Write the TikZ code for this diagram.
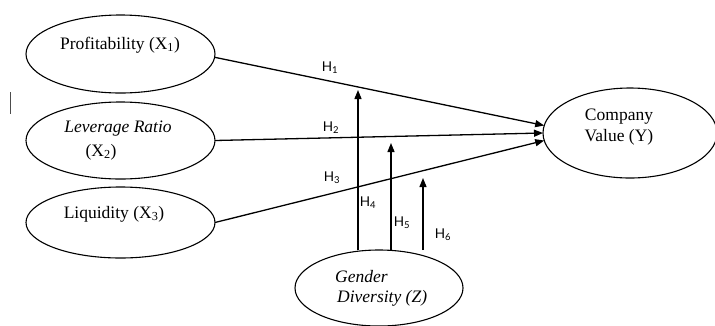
\documentclass[tikz,border=0pt]{standalone}
\usepackage{fontspec}
\setmainfont{Liberation Serif}
\newfontfamily\hfont{Lato}
\usetikzlibrary{shapes.geometric,arrows.meta}
\begin{document}
\begin{tikzpicture}[x=1pt,y=-1pt,
  ell/.style={draw, ellipse, line width=1.1pt, inner sep=0pt, outer sep=0pt},
  lbl/.style={font=\fontsize{17.5}{20}\selectfont, inner sep=0pt},
  hl/.style={font=\hfont\fontsize{13.5}{15}\selectfont, inner sep=0pt},
  arr/.style={line width=1.3pt, -{Triangle[length=9pt,width=7pt]}}]
\useasboundingbox (0,0) rectangle (715,325);
% ellipses
\node[ell, minimum width=189pt, minimum height=78pt] (p1) at (120.5,54) {};
\node[ell, minimum width=189pt, minimum height=77pt] (p2) at (120.5,140.5) {};
\node[ell, minimum width=189pt, minimum height=71pt] (p3) at (120.5,222.5) {};
\node[ell, minimum width=174pt, minimum height=90pt] (cv) at (630,133) {};
\node[ell, minimum width=168pt, minimum height=76pt] (gd) at (379,288) {};
% texts
\node[lbl] (t1) at (120,45) {Profitability (X\textsubscript{1})};
\node[lbl] (t2a) at (118,129) {\itshape Leverage Ratio};
\node[lbl] (t2b) at (101,152) {(X\textsubscript{2})};
\node[lbl] (t3) at (114,214) {Liquidity (X\textsubscript{3})};
\node[lbl] (t4a) at (619,117) {Company};
\node[lbl] (t4b) at (619,137) {Value (Y)};
\node[lbl, anchor=west] (t5a) at (335,277) {\itshape Gender};
\node[lbl, anchor=west] (t5b) at (337,298) {\itshape Diversity (Z)};
% main paths
\draw[arr] (p1.-2) -- (cv.175);
\draw[arr] (p2.east) -- (cv.180);
\draw[arr] (p3.east) -- (cv.185);
% moderating paths
\coordinate (m4) at (358,90);
\coordinate (m5) at (391,143);
\coordinate (m6) at (423,178);
\draw[arr] (gd.north -| m4) -- (m4);
\draw[arr] (gd.north -| m5) -- (m5);
\draw[arr] (gd.north -| m6) -- (m6);
% labels
\node[hl] (h1) at (330,68) {H\textsubscript{1}};
\node[hl] (h2) at (331,128) {H\textsubscript{2}};
\node[hl] (h3) at (332,178) {H\textsubscript{3}};
\node[hl] (h4) at (368,203) {H\textsubscript{4}};
\node[hl] (h5) at (402,223) {H\textsubscript{5}};
\node[hl] (h6) at (443,235) {H\textsubscript{6}};
% stray mark
\draw[line width=0.8pt, black!70] (10,92) -- (10,114);
\end{tikzpicture}
\end{document}
